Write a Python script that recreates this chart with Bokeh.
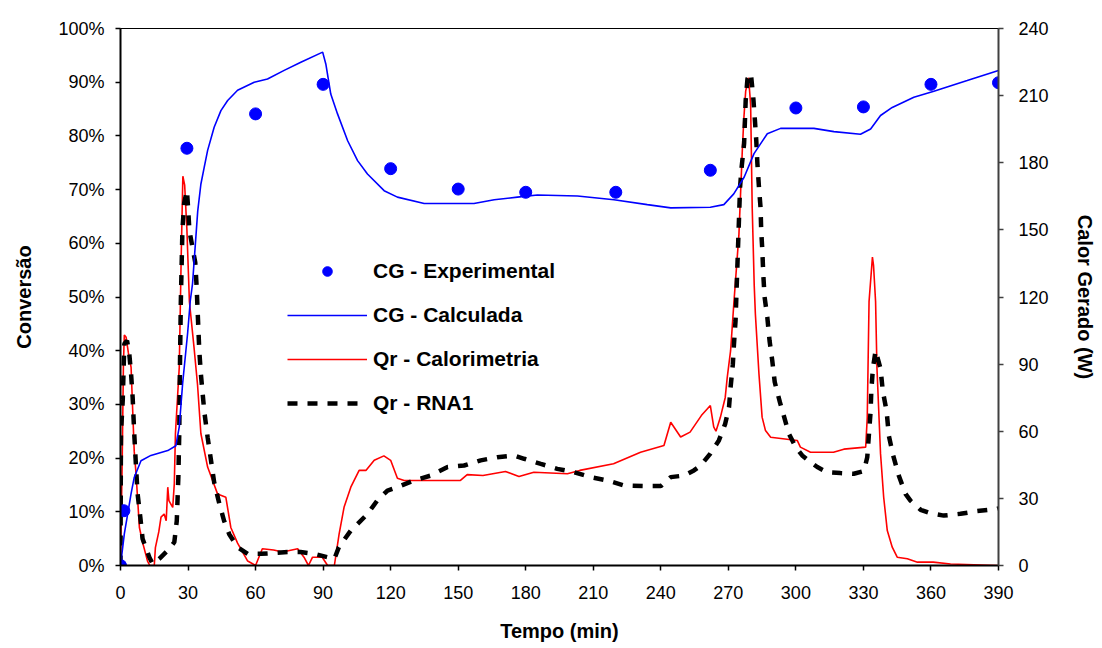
from bokeh.plotting import figure
from bokeh.models import (Range1d, LinearAxis, FixedTicker, NumeralTickFormatter,
                          Legend, LegendItem, ColumnDataSource)
from bokeh.embed import file_html
from bokeh.resources import INLINE

# ---------------- data ----------------
x_ticks = [0, 30, 60, 90, 120, 150, 180, 210, 240, 270, 300, 330, 360, 390]
conv_ticks = [0, 0.1, 0.2, 0.3, 0.4, 0.5, 0.6, 0.7, 0.8, 0.9, 1.0]
heat_ticks = [0, 30, 60, 90, 120, 150, 180, 210, 240]

# CG - Experimental (conversion, %)
t_exp = [0, 1.5, 29.5, 60, 90, 120, 150, 180, 220, 262, 300, 330, 360, 390]
conv_exp = [0, 10.2, 77.7, 84.1, 89.6, 73.9, 70.1, 69.5, 69.5, 73.6, 85.2, 85.4, 89.6, 89.9]

# CG - Calculada (conversion, %)
t_calc = [0, 1.7, 3.2, 4.7, 6.1, 9.1, 13.5, 21, 24.6, 26.1, 27.6, 29.8, 31, 32, 34.3,
          35.7, 37.2, 38.7, 41.6, 44.6, 47.6, 52, 59.4, 65.3, 72.7, 80.1, 89.8, 91.2,
          93.4, 96.4, 100.9, 105.3, 109.7, 117.1, 123, 134.9, 157, 166, 176.3, 185.2,
          203, 219.2, 234, 244.4, 262, 268, 272.4, 277, 281.4, 287.3, 293.2, 308,
          316.9, 328.7, 333.2, 337.6, 342.8, 352.4, 361.3, 376.1, 390]
conv_calc = [0, 5.9, 9.6, 13.4, 16.4, 19.5, 20.5, 21.4, 22.3, 25.8, 33.9, 43.2, 49.3,
             52.5, 66, 71, 74.2, 77.3, 81.6, 84.7, 86.6, 88.5, 90, 90.6, 92.2, 93.7,
             95.6, 93.4, 87.8, 84.1, 79.1, 75.4, 72.9, 69.8, 68.6, 67.4, 67.4, 68.1,
             68.6, 69.0, 68.8, 68.1, 67.2, 66.6, 66.7, 67.2, 69.2, 72.3, 76.7, 80.4,
             81.4, 81.4, 80.8, 80.3, 81.3, 83.8, 85.3, 87.2, 88.3, 90.3, 92.2]

# Qr - Calorimetria (W)
t_cal = [0, 0.8, 1.3, 1.7, 2.5, 3.5, 4.7, 6.1, 6.9, 8.4, 9.9, 12, 13, 15, 15.5, 17,
         18, 19.4, 20.3, 21, 21.5, 23.2, 23.9, 24.4, 26.1, 27, 27.7, 28.5, 29.5, 30.6,
         32.8, 34.2, 35.7, 38.7, 43.1, 46.8, 49, 52, 56.5, 60, 63, 68, 72, 78.7, 81.5,
         83.5, 85.3, 89.6, 92, 95, 97.1, 99.3, 102.3, 106, 109, 112.7, 117, 120, 123,
         126, 130.4, 137.8, 151, 154, 161, 171, 177, 183.6, 198.5, 204, 219, 231,
         241.4, 244.4, 248.8, 253, 258, 262, 263.5, 264.5, 266.4, 268.6, 269.5, 271,
         272.5, 274.7, 276.2, 276.9, 277.7, 279, 279.9, 280.6, 281.5, 282, 283.6, 285,
         286.5, 288.8, 300.6, 302, 306.5, 316.7, 321.3, 331, 331.7, 332.5, 334, 334.5,
         335.4, 336, 337.6, 339, 340.6, 342.8, 345, 349.5, 354, 361, 368.7, 389.4, 390]
q_cal = [0, 50, 90, 103, 102, 95, 88.6, 51, 41, 17, 10, 2, 0, 0, 8, 15, 21.6, 23, 20,
         35, 29, 26, 36.6, 59, 88.6, 140, 174, 170, 150, 118, 96, 81, 59, 44, 32, 30.5,
         17, 10, 2, 0, 7.5, 6.9, 6, 7.5, 3.7, 0, 3.7, 3.7, 0, 0, 14, 26, 35, 42.5, 42.5,
         47, 49, 47, 39, 38, 38, 38, 38, 40.6, 40.2, 42, 39.8, 41.7, 41, 42.5, 45.5,
         50.6, 53.6, 64, 57.4, 59.6, 67, 71.5, 62, 60, 66, 75, 84, 96, 118, 148, 185.5,
         200, 212, 218, 206, 160, 125, 112.5, 85.6, 66.3, 60.3, 57.3, 55.9, 52.9, 50.6,
         50.6, 52, 52.9, 66, 118, 137.8, 134, 118, 88.6, 50, 30.5, 15.6, 8.2, 3.7, 3,
         1.5, 1.5, 0.7, 0, 0]

# Qr - RNA1 (W)
t_rna = [0, 0.2, 1, 1.7, 2.9, 3.9, 4.7, 5.4, 6.1, 6.9, 7.6, 8.8, 9.8, 12.8, 14.3, 17.2,
         21, 23.9, 25, 25.7, 26.1, 26.4, 26.8, 27.5, 28.3, 29.5, 30.1, 30.6, 32, 33.2,
         33.8, 35, 35.7, 37.2, 38.7, 40.2, 41.6, 43.9, 46, 48.3, 52, 56.5, 62.5, 74.2,
         80, 86, 92, 95, 97, 102.3, 109.7, 114, 118.6, 123, 130.4, 137.8, 145.3, 152.6,
         160, 167.4, 174.8, 179.3, 186.7, 194, 201.5, 208.9, 216.3, 223.6, 234, 240,
         244.4, 250.3, 254.7, 257.7, 262, 265.8, 268.6, 270.3, 271, 272, 272.5, 273.2,
         275.2, 275.9, 277, 277.7, 278.5, 280, 281.1, 281.8, 282.4, 282.9, 283.6, 284.3,
         284.6, 285.1, 285.5, 286.1, 287.3, 288.3, 289.5, 290.6, 292.9, 295, 296.9,
         299.9, 302.8, 306.5, 309.5, 313.9, 319.8, 325.7, 330.2, 331.7, 332.4, 333.2,
         333.5, 334.2, 335.4, 337.6, 338.6, 340.3, 341.3, 343.2, 345.7, 348.7, 350.9,
         355.4, 359.8, 365.7, 373.1, 380.5, 389.4, 390]
q_rna = [0, 59, 74, 99, 100.5, 94.6, 85.6, 75, 59, 44, 32, 21.6, 12, 3.7, 0.7, 3, 6.7,
         10.4, 20, 39.5, 59, 88.6, 118, 150, 162, 167.6, 158.7, 149.7, 142, 135.5, 125,
         96, 85.6, 69, 57.3, 47, 37.2, 27.6, 20, 14, 8.2, 5.2, 5.2, 6, 6, 5.2, 3.7, 3,
         8.2, 15.6, 23, 29, 33.5, 35, 38, 40.2, 44, 44.7, 47, 48.4, 49.2, 47.7, 45.4,
         43.2, 41.7, 39.5, 38, 35.8, 35.5, 35.5, 39.5, 40.2, 42.5, 44.7, 50, 55.9, 63.3,
         70.8, 79.7, 90, 99, 109.5, 169, 178, 188.6, 207.8, 217.6, 220, 208.7, 199, 190,
         179.7, 169, 160, 149.7, 140.8, 130.5, 120, 111, 100.5, 91.6, 82, 73, 65.6, 58.9,
         52.9, 49.2, 46.2, 44, 41.7, 41.3, 41, 42.2, 48.4, 58, 69, 78, 88, 96, 88, 78,
         69, 58, 49.2, 40.2, 32, 29, 24.9, 23.4, 22.3, 23.1, 24.3, 25.3, 25.5]

# ---------------- figure ----------------
FONT = "Liberation Sans"

p = figure(width=1098, height=646, output_backend="svg", toolbar_location=None,
           x_range=Range1d(0, 390), y_range=Range1d(0, 1),
           min_border_left=120, min_border_right=100, min_border_top=28,
           min_border_bottom=81)
p.extra_y_ranges = {"w": Range1d(0, 240)}
p.xgrid.visible = False
p.ygrid.visible = False
p.outline_line_color = "black"
p.outline_line_width = 1
p.background_fill_color = "white"
p.border_fill_color = "white"

def style_axis(ax, color="black"):
    ax.axis_line_color = color
    ax.axis_line_width = 2
    ax.major_tick_line_color = color
    ax.major_tick_line_width = 1.5
    ax.major_tick_in = 0
    ax.major_tick_out = 5
    ax.minor_tick_line_color = None
    ax.major_label_text_font = FONT
    ax.major_label_text_font_size = "18px"
    ax.major_label_text_color = "black"
    ax.axis_label_text_font = FONT
    ax.axis_label_text_font_size = "20px"
    ax.axis_label_text_font_style = "bold"
    ax.axis_label_text_color = "black"

xa = p.xaxis[0]
xa.ticker = FixedTicker(ticks=x_ticks)
xa.axis_label = "Tempo (min)"
style_axis(xa)
xa.major_label_standoff = 15
xa.axis_label_standoff = 18

ya = p.yaxis[0]
ya.ticker = FixedTicker(ticks=conv_ticks)
ya.formatter = NumeralTickFormatter(format="0%")
ya.axis_label = "Conversão"
style_axis(ya)
ya.major_label_standoff = 11
ya.axis_label_standoff = 20

ra = LinearAxis(y_range_name="w", ticker=FixedTicker(ticks=heat_ticks),
                axis_label="Calor Gerado (W)")
style_axis(ra, "#404040")
ra.major_label_standoff = 15
ra.axis_label_standoff = 22
p.add_layout(ra, "right")

src_cal = ColumnDataSource(dict(t=t_cal, q=q_cal))
src_rna = ColumnDataSource(dict(t=t_rna, q=q_rna))
src_calc = ColumnDataSource(dict(t=t_calc, c=[v / 100 for v in conv_calc]))
src_exp = ColumnDataSource(dict(t=t_exp, c=[v / 100 for v in conv_exp]))

r_cal = p.line("t", "q", source=src_cal, y_range_name="w", color="#FF0000", line_width=1.6)
r_rna = p.line("t", "q", source=src_rna, y_range_name="w", color="black",
               line_width=4.5, line_dash="10 10")
r_calc = p.line("t", "c", source=src_calc, color="#0000FF", line_width=1.6)
r_exp = p.scatter("t", "c", source=src_exp, marker="circle", size=12,
                  fill_color="#0000FF", line_color="#0000FF")

legend = Legend(items=[
    LegendItem(label="CG - Experimental", renderers=[r_exp]),
    LegendItem(label="CG - Calculada", renderers=[r_calc]),
    LegendItem(label="Qr - Calorimetria", renderers=[r_cal]),
    LegendItem(label="Qr - RNA1", renderers=[r_rna]),
], location=(167, 150))
legend.glyph_width = 80
legend.glyph_height = 24
legend.label_height = 24
legend.label_standoff = 6
legend.spacing = 20
legend.padding = 0
legend.margin = 0
legend.border_line_color = None
legend.background_fill_alpha = 0
legend.label_text_font = FONT
legend.label_text_font_size = "21px"
legend.label_text_font_style = "bold"
legend.label_text_color = "black"
p.add_layout(legend)

open("out.html", "w").write(file_html(p, INLINE))
